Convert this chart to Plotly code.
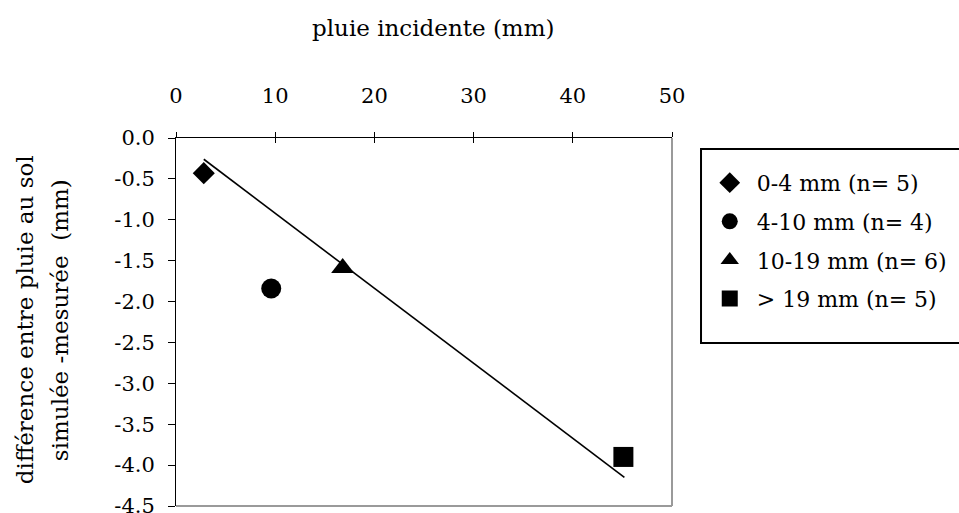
import plotly.graph_objects as go

# Rainfall classes: mean incident rainfall and simulated - measured throughfall difference
classes = ["0-4 mm (n= 5)", "4-10 mm (n= 4)", "10-19 mm (n= 6)", "> 19 mm (n= 5)"]
pluie_incidente = [2.8, 9.6, 16.8, 45.1]
difference = [-0.43, -1.84, -1.59, -3.90]
symbols = ["diamond", "circle", "triangle-up", "square"]
sizes = [17, 20, 20, 20]

# Linear trend line end points
trend_x = [2.8, 45.2]
trend_y = [-0.26, -4.15]

x_ticks = [0, 10, 20, 30, 40, 50]
y_ticks = [0.0, -0.5, -1.0, -1.5, -2.0, -2.5, -3.0, -3.5, -4.0, -4.5]

FONT = "DejaVu Serif"
FS = 21
FS_TITLE = 23

fig = go.Figure()

for name, xv, yv, sym, sz in zip(classes, pluie_incidente, difference, symbols, sizes):
    fig.add_trace(go.Scatter(
        x=[xv], y=[yv], mode="markers", name=name, legendgroup=name,
        marker=dict(symbol=sym, size=sz, color="black", line=dict(width=0)),
    ))

fig.add_trace(go.Scatter(
    x=trend_x, y=trend_y, mode="lines", showlegend=False,
    line=dict(color="black", width=1.6),
))

# invisible trace on the overlay axis so the inner tick marks are drawn
fig.add_trace(go.Scatter(x=[0, 50], y=[0, -4.5], xaxis="x2", mode="markers",
                         marker=dict(opacity=0), showlegend=False, hoverinfo="skip"))

fig.update_layout(
    width=959, height=513,
    margin=dict(l=176, r=287, t=138, b=7, autoexpand=False),
    paper_bgcolor="white", plot_bgcolor="white",
    font=dict(family=FONT, size=FS, color="black"),
    showlegend=True,
    legend=dict(
        x=1.062, y=0.935, xanchor="left", yanchor="top",
        borderwidth=0, bgcolor="rgba(0,0,0,0)",
        font=dict(family=FONT, size=22), tracegroupgap=7,
        itemwidth=44,
    ),
    xaxis=dict(
        side="top", range=[0, 50], tickvals=x_ticks, ticks="outside", ticklen=5,
        tickcolor="black", tickwidth=1, showline=True, linecolor="black", linewidth=1,
        showgrid=False, zeroline=False, ticklabelstandoff=21, automargin=False,
        tickfont=dict(family=FONT, size=FS),
    ),
    xaxis2=dict(
        overlaying="x", matches="x", side="top", range=[0, 50], tickvals=x_ticks,
        ticks="inside", ticklen=5, tickcolor="black", tickwidth=1,
        showticklabels=False, showline=False, showgrid=False, zeroline=False,
    ),
    yaxis=dict(
        range=[-4.5, 0], tickvals=y_ticks, ticktext=[f"{v:.1f}" for v in y_ticks],
        ticks="outside", ticklen=7, tickcolor="black", tickwidth=1,
        showline=True, linecolor="black", linewidth=1,
        showgrid=False, zeroline=False, ticklabelstandoff=9,
        ticklabeloverflow="allow", automargin=False,
        tickfont=dict(family=FONT, size=FS),
    ),
    shapes=[
        dict(type="line", xref="paper", yref="paper", x0=1, x1=1, y0=0, y1=1,
             line=dict(color="#9a9a9a", width=2)),
        dict(type="line", xref="paper", yref="paper", x0=0, x1=1, y0=0, y1=0,
             line=dict(color="#9a9a9a", width=2)),
        # legend frame
        dict(type="rect", xref="paper", yref="paper", x0=1.0585, x1=1.59,
             y0=0.443, y1=0.970, line=dict(color="black", width=2),
             fillcolor="rgba(0,0,0,0)"),
    ],
    annotations=[
        dict(text="pluie incidente (mm)", xref="paper", yref="paper",
             x=0.518, y=1.299, xanchor="center", yanchor="middle",
             showarrow=False, font=dict(family=FONT, size=FS_TITLE)),
        dict(text="différence entre pluie au sol", xref="paper", yref="paper",
             x=-0.3044, y=0.505, xanchor="center", yanchor="middle", textangle=-90,
             showarrow=False, font=dict(family=FONT, size=FS_TITLE)),
        dict(text="simulée -mesurée  (mm)", xref="paper", yref="paper",
             x=-0.2339, y=0.505, xanchor="center", yanchor="middle", textangle=-90,
             showarrow=False, font=dict(family=FONT, size=FS_TITLE)),
    ],
)

fig.write_html("out.html")
